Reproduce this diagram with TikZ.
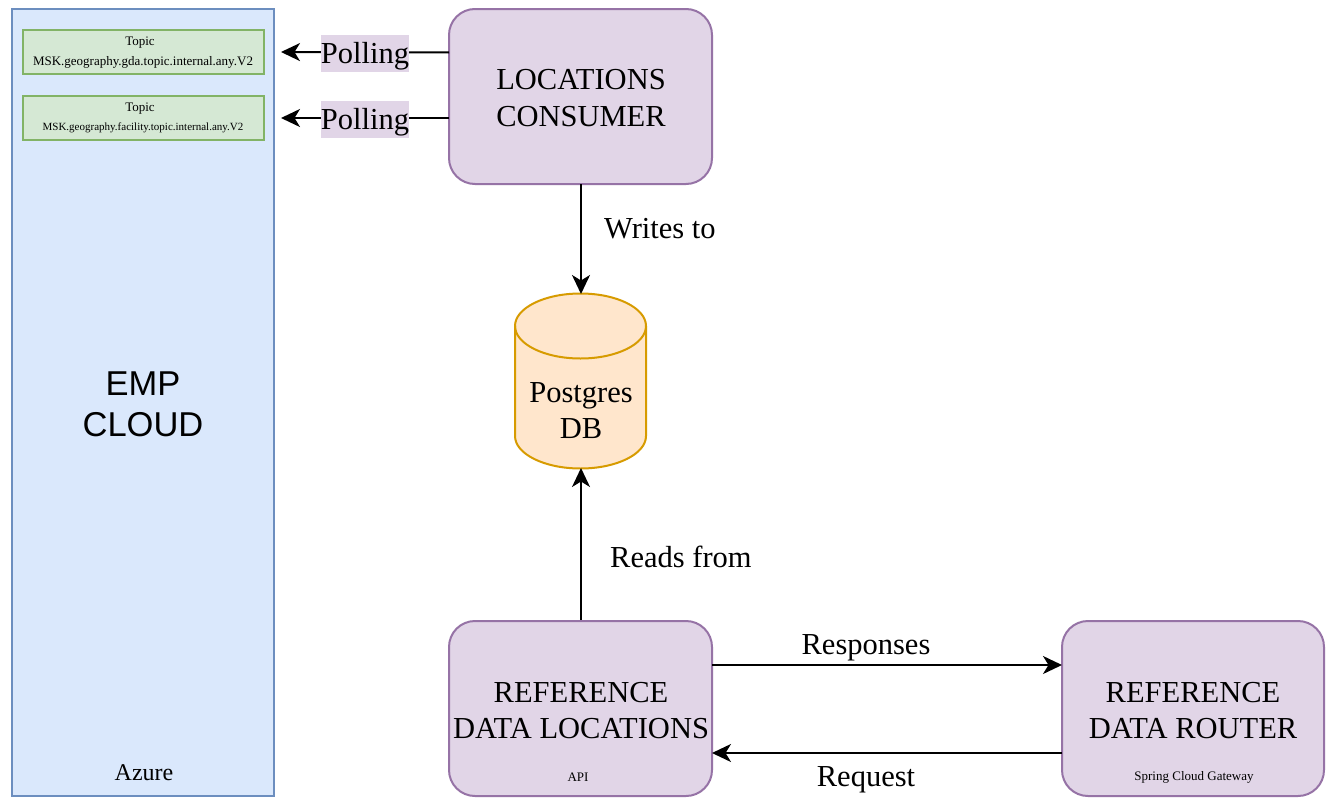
\documentclass[tikz,border=0pt]{standalone}
\usepackage{fontspec}
\setmainfont{Liberation Serif}
\newfontfamily\sansf{Liberation Sans}
\usetikzlibrary{arrows.meta,shapes.geometric}
\definecolor{pfill}{HTML}{E1D5E7}\definecolor{pline}{HTML}{9673A6}
\definecolor{bfill}{HTML}{DAE8FC}\definecolor{bline}{HTML}{6C8EBF}
\definecolor{gfill}{HTML}{D5E8D4}\definecolor{gline}{HTML}{82B366}
\definecolor{ofill}{HTML}{FFE6CC}\definecolor{oline}{HTML}{D79B00}
\tikzset{x=1pt,y=-1pt,
 svc/.style={draw=pline,fill=pfill,line width=2pt,rounded corners=26pt},
 topicbox/.style={draw=gline,fill=gfill,line width=2pt},
 conn/.style={line width=2pt,-{Stealth[length=19pt,width=18pt,inset=5.5pt]}},
 lab/.style={font=\fontsize{30.5}{36.5}\selectfont,align=center,inner sep=0},
 edge lab/.style={font=\fontsize{30.5}{36}\selectfont,inner sep=0},
 small/.style={font=\fontsize{13}{15}\selectfont,align=center,inner sep=0}}
\begin{document}
\begin{tikzpicture}
\useasboundingbox (0,0) rectangle (1339,803);
\fill[white] (0,0) rectangle (1339,803);
\path[draw=bline,fill=bfill,line width=2pt] (12,9) rectangle (274,796);
\node[font=\sansf\fontsize{34.5}{41}\selectfont,align=center,inner sep=0] (emp) at (143,404) {EMP\\CLOUD};
\node[font=\fontsize{24}{28}\selectfont,inner sep=0] (azure) at (144,773) {Azure};
\path[topicbox] (23,30) rectangle (264,74);
\node[small] (t1a) at (140,43) {Topic};
\node[small] (t1b) at (143,62) {MSK.geography.gda.topic.internal.any.V2};
\path[topicbox] (23,96) rectangle (264,140);
\node[small] (t2a) at (140,109) {Topic};
\node[font=\fontsize{11}{13}\selectfont,inner sep=0] (t2b) at (143,128) {MSK.geography.facility.topic.internal.any.V2};
\path[svc] (449,9) rectangle (712,184);
\node[lab] (lc) at (581,98) {LOCATIONS\\CONSUMER};
\coordinate (lcl1) at (449,52.5);\coordinate (lcl2) at (449,118);
\coordinate (t1e) at (281,52);\coordinate (t2e) at (281,118);
\draw[conn] (lcl1) -- (t1e);
\draw[conn] (lcl2) -- (t2e);
\path[fill=pfill] (321,35) rectangle (409,72);
\path[fill=pfill] (321,101) rectangle (409,138);
\node[edge lab] (p1) at (365,56) {Polling};
\node[edge lab] (p2) at (365,122) {Polling};
\path[draw=oline,fill=ofill,line width=2pt] (515,326) arc[x radius=65.5,y radius=32.5,start angle=180,end angle=360] -- (646,436) arc[x radius=65.5,y radius=32.5,start angle=0,end angle=180] -- cycle;
\path[draw=oline,line width=2pt] (515,326) arc[x radius=65.5,y radius=32.5,start angle=180,end angle=0];
\node[lab] (pg) at (581,410.5) {Postgres\\DB};
\coordinate (lcb) at (581,184);\coordinate (pgt) at (581,294);\coordinate (pgb) at (581,468);\coordinate (rt) at (581,621);
\draw[conn] (lcb) -- (pgt);
\draw[conn] (rt) -- (pgb);
\node[edge lab,anchor=west] (w) at (604,229) {Writes to};
\node[edge lab,anchor=west] (r) at (610,557) {Reads from};
\path[svc] (449,621) rectangle (712,796);
\node[lab] (rl) at (581,710.5) {REFERENCE\\DATA LOCATIONS};
\node[small] (api) at (578,777) {API};
\path[svc] (1062,621) rectangle (1324,796);
\node[lab] (rr) at (1193,710.5) {REFERENCE\\DATA ROUTER};
\node[small] (scg) at (1194,777) {Spring Cloud Gateway};
\coordinate (a1) at (712,665);\coordinate (b1) at (1062,665);\coordinate (a2) at (1062,753);\coordinate (b2) at (712,753);
\draw[conn] (a1) -- (b1);
\draw[conn] (a2) -- (b2);
\node[edge lab] (resp) at (866,648) {Responses};
\node[edge lab] (req) at (866,780) {Request};
\end{tikzpicture}
\end{document}
